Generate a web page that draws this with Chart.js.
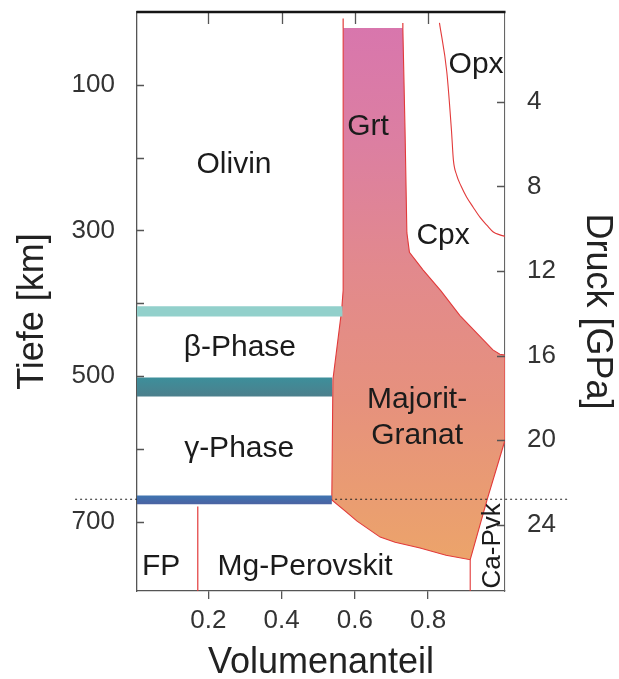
<!DOCTYPE html>
<html>
<head>
<meta charset="utf-8">
<script src="https://cdn.jsdelivr.net/npm/chart.js@4.4.1/dist/chart.umd.min.js"></script>
<style>
html,body{margin:0;padding:0;background:#fff;}
#wrap{width:619px;height:679px;position:relative;}
</style>
</head>
<body>
<div id="wrap"><canvas id="c" width="619" height="679"></canvas></div>
<script>
// ---------- axis ticks ----------
const depthTicks = [100, 200, 300, 400, 500, 600, 700];
const depthTickLabels = ['100', '', '300', '', '500', '', '700'];
const pressureTicks = [4, 8, 12, 16, 20, 24];
const pressureTickLabels = ['4', '8', '12', '16', '20', '24'];
const fractionTicks = [0.2, 0.4, 0.6, 0.8];
const fractionTickLabels = ['0.2', '0.4', '0.6', '0.8'];

// ---------- Granat / Majorit-Granat field (Volumenanteil, Tiefe km) ----------
const garnetFraction = [0.731, 0.737, 0.742, 0.749, 0.786, 0.835, 0.887, 0.933, 0.977, 0.996, 1.010,
                        1.010, 0.961, 0.915,
                        0.849, 0.778, 0.710, 0.669, 0.606, 0.573, 0.537,
                        0.540, 0.564, 0.568, 0.568];
const garnetDepth    = [22, 162, 303, 330, 354, 383, 417, 441, 464, 470, 471,
                        588, 670, 752,
                        746, 736, 728, 721, 699, 685, 670,
                        505, 409, 382, 22];
// red edge lines above the top of the Grt field
const grtLeftEdgeFraction = [0.568, 0.568];
const grtLeftEdgeDepth = [9, 22];
const grtRightEdgeFraction = [0.731, 0.731];
const grtRightEdgeDepth = [15, 22];

// ---------- Opx / Cpx boundary ----------
const opxFraction = [0.831, 0.851, 0.864, 0.869, 0.878, 0.890, 0.905, 0.923, 0.942, 0.961, 0.978, 0.996, 1.010];
const opxDepth    = [15, 82, 164, 203, 224, 239, 254, 268, 282, 293, 302, 306, 308];

// ---------- FP / Mg-Perovskit and Ca-Perovskit boundaries ----------
const fpFraction = [0.171, 0.171];
const fpDepth = [679, 795];
const caPvkFraction = [0.915, 0.915];
const caPvkDepth = [752, 795];

// ---------- olivine transition bands (x extent, top depth, bottom depth) ----------
const band410Fraction = [0, 0.566];
const band410Depth = [404, 418];
const band520Fraction = [0, 0.538];
const band520Depth = [502, 528];
const band660Fraction = [0, 0.537];
const band660Depth = [664, 676];

// ---------- 660 km dotted reference line ----------
const dottedFraction = [-0.164, 1.187];
const dottedDepth = [669, 669];

// ---------- labels ----------
const annotations = [
  {text: 'Olivin', x: 0.270, d: 221},
  {text: '\u03B2-Phase', x: 0.286, d: 473},
  {text: '\u03B3-Phase', x: 0.284, d: 611},
  {text: 'Grt', x: 0.636, d: 169},
  {text: 'Opx', x: 0.931, d: 84},
  {text: 'Cpx', x: 0.841, d: 318},
  {text: 'Majorit-', x: 0.770, d: 544},
  {text: 'Granat', x: 0.770, d: 593},
  {text: 'FP', x: 0.071, d: 773},
  {text: 'Mg-Perovskit', x: 0.464, d: 773},
  {text: 'Ca-Pvk', x: 0.996, d: 733, rotate: true, size: 26}
];

const FONT = "'Liberation Sans', Arial, Helvetica, sans-serif";

function pts(xs, ys) { return xs.map((x, i) => ({x: x, y: ys[i]})); }
function rect(xs, ds) {
  return [{x: xs[0], y: ds[0]}, {x: xs[1], y: ds[0]}, {x: xs[1], y: ds[1]}, {x: xs[0], y: ds[1]}];
}
function vGrad(chart, stops, d0, d1) {
  const y = chart.scales.y;
  if (!y || !chart.chartArea) return stops[0][1];
  const g = chart.ctx.createLinearGradient(0, y.getPixelForValue(d0), 0, y.getPixelForValue(d1));
  stops.forEach(s => g.addColorStop(s[0], s[1]));
  return g;
}
const garnetStops = [[0, '#d876ad'], [0.22, '#dc7fa1'], [0.45, '#e2898d'], [0.7, '#e6917d'], [1, '#eca46a']];

const base = {yAxisID: 'y', pointRadius: 0, pointHoverRadius: 0, tension: 0};

const datasets = [
  Object.assign({}, base, {label: '660 band', data: rect(band660Fraction, band660Depth), fill: 'shape', borderWidth: 0,
    backgroundColor: c => vGrad(c.chart, [[0, '#3f74b0'], [1, '#4b62a2']], band660Depth[0], band660Depth[1])}),
  Object.assign({}, base, {label: '520 band', data: rect(band520Fraction, band520Depth), fill: 'shape', borderWidth: 0,
    backgroundColor: c => vGrad(c.chart, [[0, '#3d8f9b'], [1, '#4c7f8c']], band520Depth[0], band520Depth[1])}),
  Object.assign({}, base, {label: '410 band', data: rect(band410Fraction, band410Depth), fill: 'shape', borderWidth: 0,
    backgroundColor: '#92d0cb'}),
  Object.assign({}, base, {label: '660 km', data: pts(dottedFraction, dottedDepth), fill: false, clip: false,
    borderColor: '#222', borderWidth: 1.2, borderDash: [2, 3]}),
  Object.assign({}, base, {label: 'Opx', data: pts(opxFraction, opxDepth), fill: false, borderColor: '#e23a3a', borderWidth: 1.1,
    cubicInterpolationMode: 'monotone'}),
  Object.assign({}, base, {label: 'FP', data: pts(fpFraction, fpDepth), fill: false, borderColor: '#e23a3a', borderWidth: 1.2}),
  Object.assign({}, base, {label: 'Ca-Pvk', data: pts(caPvkFraction, caPvkDepth), fill: false, borderColor: '#e23a3a', borderWidth: 1.1}),
  Object.assign({}, base, {label: 'Grt L', data: pts(grtLeftEdgeFraction, grtLeftEdgeDepth), fill: false, borderColor: '#e23a3a', borderWidth: 1.2}),
  Object.assign({}, base, {label: 'Grt R', data: pts(grtRightEdgeFraction, grtRightEdgeDepth), fill: false, borderColor: '#e23a3a', borderWidth: 1.2}),
  Object.assign({}, base, {label: 'Granat', data: pts(garnetFraction, garnetDepth), fill: 'shape', borderColor: '#e23a3a', borderWidth: 1.1,
    backgroundColor: c => vGrad(c.chart, garnetStops, 20, 755)})
];

const framePlugin = {
  id: 'frame',
  afterDraw(chart) {
    const {ctx, chartArea: a, scales} = chart;
    const x = scales.x, y = scales.y, y2 = scales.y2;
    ctx.save();
    ctx.strokeStyle = '#555';
    ctx.lineWidth = 1.3;
    ctx.beginPath();
    y.ticks.forEach(t => { const p = Math.round(y.getPixelForValue(t.value)) + 0.5; ctx.moveTo(a.left, p); ctx.lineTo(a.left + 7, p); });
    y2.ticks.forEach(t => { const p = Math.round(y2.getPixelForValue(t.value)) + 0.5; ctx.moveTo(a.right - 8, p); ctx.lineTo(a.right, p); });
    x.ticks.forEach(t => { const p = Math.round(x.getPixelForValue(t.value)) + 0.5; ctx.moveTo(p, a.top); ctx.lineTo(p, a.top + 12); });
    ctx.stroke();
    // top frame line
    ctx.strokeStyle = '#151515';
    ctx.lineWidth = 2.3;
    ctx.beginPath();
    ctx.moveTo(a.left - 0.5, a.top);
    ctx.lineTo(a.right + 0.5, a.top);
    ctx.stroke();
    // labels
    ctx.fillStyle = '#1b1b1b';
    annotations.forEach(an => {
      const px = x.getPixelForValue(an.x), py = y.getPixelForValue(an.d);
      ctx.font = (an.size || 30) + 'px ' + FONT;
      ctx.textBaseline = 'alphabetic';
      if (an.rotate) {
        ctx.save();
        ctx.translate(px, py);
        ctx.rotate(-Math.PI / 2);
        ctx.textAlign = 'center';
        ctx.fillText(an.text, 0, 0);
        ctx.restore();
      } else {
        ctx.textAlign = 'center';
        ctx.fillText(an.text, px, py);
      }
    });
    ctx.restore();
  }
};

function setTicks(values) {
  return function (scale) { scale.ticks = values.map(v => ({value: v})); };
}
function fitVertical(width) {
  return function (s) { s.width = width; s.paddingTop = 0; s.paddingBottom = 0; };
}

new Chart(document.getElementById('c'), {
  type: 'line',
  data: {datasets: datasets},
  options: {
    responsive: false,
    animation: false,
    devicePixelRatio: 1,
    events: [],
    layout: {padding: {top: 12, left: 0, right: 0, bottom: 0}},
    plugins: {legend: {display: false}, tooltip: {enabled: false}},
    scales: {
      x: {
        type: 'linear', position: 'bottom', min: 0.005, max: 1.01, z: 1,
        afterBuildTicks: setTicks(fractionTicks),
        afterFit: s => { s.height = 88; s.paddingLeft = 0; s.paddingRight = 0; },
        ticks: {callback: (v, i) => fractionTickLabels[i], autoSkip: false, maxRotation: 0, padding: 6,
                color: '#333', font: {family: FONT, size: 26}},
        grid: {drawOnChartArea: false, drawTicks: true, tickLength: 8, color: '#555', lineWidth: 1.3},
        border: {display: true, color: '#555', width: 1.3},
        title: {display: true, text: 'Volumenanteil', color: '#222', font: {family: FONT, size: 36},
                padding: {top: 0, bottom: -6}}
      },
      y: {
        type: 'linear', position: 'left', reverse: true, min: 0, max: 795, z: 1,
        afterBuildTicks: setTicks(depthTicks),
        afterFit: fitVertical(137),
        ticks: {callback: (v, i) => depthTickLabels[i], autoSkip: false, padding: 22,
                color: '#333', font: {family: FONT, size: 26}},
        grid: {drawOnChartArea: false, drawTicks: false},
        border: {display: true, color: '#555', width: 1.3},
        title: {display: true, text: 'Tiefe [km]  ', color: '#222', font: {family: FONT, size: 36},
                padding: {top: 11, bottom: 0}}
      },
      y2: {
        type: 'linear', position: 'right', reverse: true, min: -0.24, max: 27.12, z: 1,
        afterBuildTicks: setTicks(pressureTicks),
        afterFit: fitVertical(114),
        ticks: {callback: (v, i) => pressureTickLabels[i], autoSkip: false, padding: 22,
                color: '#333', font: {family: FONT, size: 26}},
        grid: {drawOnChartArea: false, drawTicks: false},
        border: {display: true, color: '#666', width: 1.1},
        title: {display: true, text: '  Druck [GPa]', color: '#222', font: {family: FONT, size: 36},
                padding: {top: 0, bottom: 0}}
      }
    }
  },
  plugins: [framePlugin]
});
</script>
</body>
</html>
